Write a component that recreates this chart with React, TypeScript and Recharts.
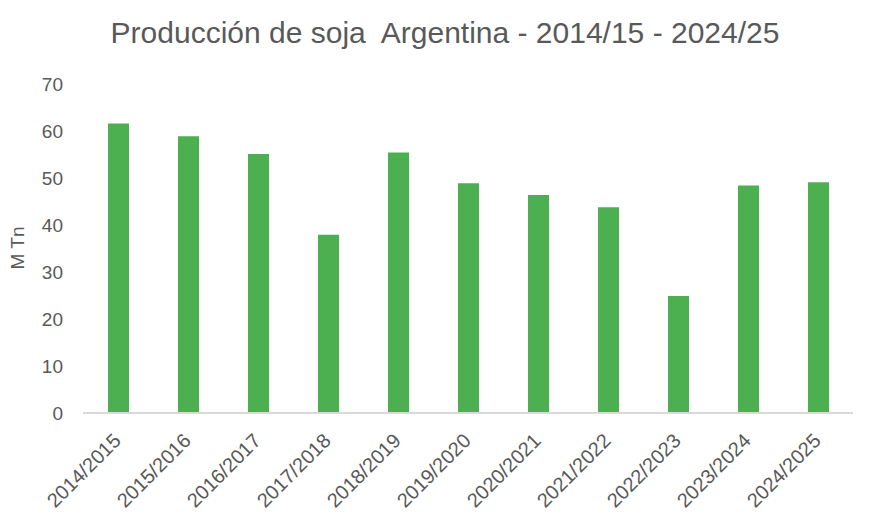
import React from 'react';
import { BarChart, Bar, XAxis, YAxis } from 'recharts';

const campaigns = [
  '2014/2015', '2015/2016', '2016/2017', '2017/2018', '2018/2019', '2019/2020',
  '2020/2021', '2021/2022', '2022/2023', '2023/2024', '2024/2025',
];
const production = [61.6, 58.9, 55.1, 37.9, 55.4, 48.9, 46.4, 43.8, 24.9, 48.4, 49.1];
const yTicks = [0, 10, 20, 30, 40, 50, 60, 70];

const data = campaigns.map((c, i) => ({ campaign: c, value: production[i] }));

const textColor = '#595959';
const font = "'Liberation Sans', Arial, sans-serif";

const XTick = ({ x, y, payload }: any) => (
  <g transform={`translate(${x + 4},${y + 29})`}>
    <text textAnchor="end" transform="rotate(-45)" fill={textColor} fontSize={20} fontFamily={font}>
      {payload.value}
    </text>
  </g>
);

const App: React.FC = () => {
  return (
    <div style={{ position: 'absolute', left: 0, top: 0, width: 880, height: 512, background: '#fff' }}>
      <div
        style={{
          position: 'absolute', left: 5, top: 15, width: 880, textAlign: 'center',
          fontFamily: font, fontSize: 30,
          color: textColor, lineHeight: '36px', whiteSpace: 'pre',
        }}
      >
        Producción de soja  Argentina - 2014/15 - 2024/25
      </div>
      <div
        style={{
          position: 'absolute', left: 18, top: 248, transform: 'translate(-50%, -50%) rotate(-90deg)',
          fontFamily: font, fontSize: 19, color: textColor, whiteSpace: 'nowrap', lineHeight: '20px',
        }}
      >
        M Tn
      </div>
      <BarChart width={880} height={512} data={data} margin={{ top: 84, right: 27, left: 23, bottom: 0 }}>
        <XAxis
          dataKey="campaign"
          interval={0}
          height={99}
          tickLine={false}
          tickSize={0}
          tickMargin={0}
          axisLine={{ stroke: '#d9d9d9', strokeWidth: 2 }}
          tick={<XTick />}
        />
        <YAxis
          domain={[0, 70]}
          ticks={yTicks}
          width={60}
          axisLine={false}
          tickLine={false}
          tickSize={0}
          tickMargin={20}
          tick={{ fill: textColor, fontSize: 19, fontFamily: font }}
        />
        <Bar dataKey="value" fill="#4caf50" barSize={21} isAnimationActive={false} />
      </BarChart>
    </div>
  );
};

export default App;
